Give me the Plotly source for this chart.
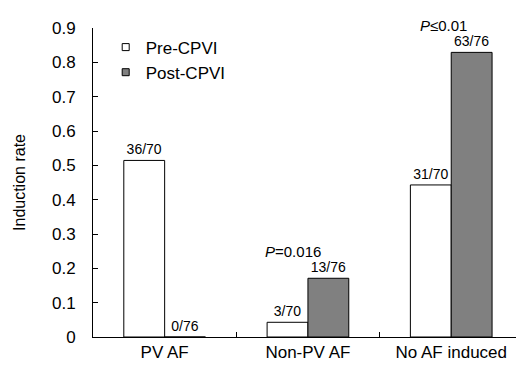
import plotly.graph_objects as go

categories = ["PV AF", "Non-PV AF", "No AF induced"]
pre_counts = [36, 3, 31]
pre_total = 70
post_counts = [0, 13, 63]
post_total = 76
pre_values = [c / pre_total for c in pre_counts]
post_values = [c / post_total for c in post_counts]
pre_labels = [f"{c}/{pre_total}" for c in pre_counts]
post_labels = [f"{c}/{post_total}" for c in post_counts]
p_labels = {"Non-PV AF": "<i>P</i>=0.016", "No AF induced": "<i>P</i>≤0.01"}

FONT = "Liberation Sans, Arial, sans-serif"

fig = go.Figure()
fig.add_trace(go.Bar(
    x=categories, y=pre_values, name="Pre-CPVI", showlegend=False,
    marker=dict(color="white", line=dict(color="black", width=1)),
    text=pre_labels, textposition="outside", constraintext="none",
    textfont=dict(size=14, color="black", family=FONT), cliponaxis=False,
))
fig.add_trace(go.Bar(
    x=categories, y=post_values, name="Post-CPVI", showlegend=False,
    marker=dict(color="#808080", line=dict(color="black", width=1)),
    text=post_labels, textposition="outside", constraintext="none",
    textfont=dict(size=14, color="black", family=FONT), cliponaxis=False,
))
# legend entries with small square symbols
fig.add_trace(go.Scatter(
    x=[None], y=[None], mode="markers", name="Pre-CPVI",
    marker=dict(symbol="square", size=7, color="white", line=dict(color="black", width=1)),
))
fig.add_trace(go.Scatter(
    x=[None], y=[None], mode="markers", name="Post-CPVI",
    marker=dict(symbol="square", size=7, color="#808080", line=dict(color="black", width=1)),
))

for cat, txt in p_labels.items():
    i = categories.index(cat)
    fig.add_annotation(
        x=cat, y=post_values[i], text=txt, showarrow=False,
        xshift=-15 if cat == "Non-PV AF" else -8, yshift=27,
        font=dict(size=15, color="black", family=FONT),
    )

fig.update_layout(
    width=516, height=365,
    margin=dict(l=93, r=0, t=28, b=28),
    paper_bgcolor="white", plot_bgcolor="white",
    barmode="group", bargap=0.43, bargroupgap=0,
    font=dict(family=FONT, color="black", size=16),
    legend=dict(
        x=0.03, y=0.995, xanchor="left", yanchor="top",
        bgcolor="rgba(0,0,0,0)", font=dict(size=17, family=FONT),
        itemwidth=30, tracegroupgap=0,
    ),
    xaxis=dict(
        type="category", range=[-0.5, 2.452], automargin=False,
        showline=True, linecolor="black", linewidth=1,
        ticks="inside", tickson="boundaries", ticklen=5, tickcolor="black",
        tickfont=dict(size=17, family=FONT), ticklabelstandoff=0,
        showgrid=False, zeroline=False,
    ),
    yaxis=dict(
        range=[0, 0.9], dtick=0.1, tick0=0, automargin=False,
        showline=True, linecolor="black", linewidth=1,
        ticks="inside", ticklen=5, tickcolor="black",
        tickfont=dict(size=17, family=FONT), ticklabelstandoff=13,
        showgrid=False, zeroline=False,
        title=dict(text="Induction rate", font=dict(size=16, family=FONT), standoff=22),
    ),
)

fig.write_html("out.html")
